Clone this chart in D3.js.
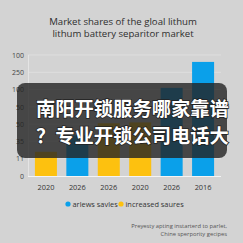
<!DOCTYPE html>
<html>
<head>
<meta charset="utf-8">
<script src="https://cdn.jsdelivr.net/npm/d3@7"></script>
<style>
  html, body { margin: 0; padding: 0; background: #d3d3d3; }
  svg { display: block; font-family: "Open Sans", "DejaVu Sans", sans-serif; }
</style>
</head>
<body>
<svg id="chart"></svg>
<script>
const title_lines = ["Market shares of the gloal lithum", "lithum battery separitor market"];
const years = ["2020", "2026", "2026", "2020", "2026", "2016"];
const shares = [28, 47, 61, 62, 102, 132];
const series_of_bar = ["increased saures", "arlews savles", "increased saures", "increased saures", "arlews savles", "arlews savles"];
const tick_values = [0, 20, 40, 60, 80, 100, 120, 140];
const tick_labels = ["0", "11", "35", "50", "50", "100", "250", "100"];
const legend_items = ["arlews savles", "increased saures"];
const note_lines = ["Preyesty apting instarterd to parlet,", "Chine sperpority gecipes"];
const banner_lines = ["南阳开锁服务哪家靠谱", "？专业开锁公司电话大"];

const width = 243, height = 243;
const colors = {"arlews savles": "#0aa0ea", "increased saures": "#fdc10f"};

const svg = d3.select("#chart").attr("width", width).attr("height", height);

svg.append("rect").attr("width", width).attr("height", height).attr("fill", "#d3d3d3");

// title
svg.append("g").selectAll("text")
  .data(title_lines)
  .join("text")
  .attr("x", 123)
  .attr("y", (d, i) => 25 + i * 12)
  .attr("text-anchor", "middle")
  .attr("font-size", 9.6)
  .attr("fill", "#2e2e2e")
  .text(d => d);

const x = d3.scaleBand().domain(d3.range(years.length)).range([28, 221]).paddingInner(0.3).paddingOuter(0.22);
const y = d3.scaleLinear().domain([0, 140]).range([176, 55]);

// grid
svg.append("g").selectAll("line")
  .data(tick_values.slice(1))
  .join("line")
  .attr("x1", 28).attr("x2", 221)
  .attr("y1", d => y(d)).attr("y2", d => y(d))
  .attr("stroke", "#dedede").attr("stroke-width", 1);

svg.append("line")
  .attr("x1", 28.5).attr("x2", 28.5).attr("y1", y(140)).attr("y2", y(0))
  .attr("stroke", "#e4e4e4");

// y axis
const y_axis = svg.append("g")
  .attr("transform", "translate(24,0)")
  .call(d3.axisLeft(y).tickValues(tick_values).tickSize(0).tickFormat((d, i) => tick_labels[i]));
y_axis.select(".domain").remove();
y_axis.selectAll("text").attr("font-size", 7).attr("fill", "#444").attr("x", 0)
  .attr("font-family", "'Open Sans', sans-serif");

// bars
svg.append("g").selectAll("rect")
  .data(shares)
  .join("rect")
  .attr("x", (d, i) => x(i))
  .attr("width", x.bandwidth())
  .attr("y", d => y(d))
  .attr("height", d => y(0) - y(d))
  .attr("fill", (d, i) => colors[series_of_bar[i]]);

svg.append("line")
  .attr("x1", 28).attr("x2", 221).attr("y1", y(0) + 0.5).attr("y2", y(0) + 0.5)
  .attr("stroke", "#f4f4f4").attr("stroke-width", 1.2);

// x axis
const x_axis = svg.append("g")
  .attr("transform", "translate(0," + y(0) + ")")
  .call(d3.axisBottom(x).tickSize(0).tickFormat(i => years[i]));
x_axis.select(".domain").remove();
x_axis.selectAll("text").attr("font-size", 7.4).attr("fill", "#333").attr("dy", "1.55em")
  .attr("font-family", "'Open Sans', sans-serif");

// legend
const legend = svg.append("g").attr("transform", "translate(0,204)");
const legend_x = [68, 121];
legend_items.forEach(function(name, i) {
  const g = legend.append("g").attr("transform", "translate(" + legend_x[i] + ",0)");
  g.append("circle").attr("r", 2.6).attr("fill", colors[name]);
  g.append("text").attr("x", 4.5).attr("y", 2.6).attr("font-size", 7.4).attr("fill", "#333").text(name);
});

// note
svg.append("g").selectAll("text")
  .data(note_lines)
  .join("text")
  .attr("x", 227)
  .attr("y", (d, i) => 228 + i * 7.5)
  .attr("text-anchor", "end")
  .attr("font-size", 5.8)
  .attr("fill", "#555")
  .text(d => d);

// overlay banner
svg.append("rect")
  .attr("x", 17).attr("y", 83).attr("width", 210).attr("height", 75)
  .attr("rx", 8)
  .attr("fill", "rgba(35,35,35,0.8)");

svg.append("g").selectAll("text")
  .data(banner_lines)
  .join("text")
  .attr("x", 36)
  .attr("y", (d, i) => 116 + i * 27)
  .attr("font-family", "'Noto Sans CJK SC', sans-serif")
  .attr("font-weight", "bold")
  .attr("font-size", 19.3)
  .attr("fill", "#fff")
  .attr("stroke", "#222")
  .attr("stroke-width", 1.5)
  .attr("paint-order", "stroke")
  .text(d => d);
</script>
</body>
</html>
